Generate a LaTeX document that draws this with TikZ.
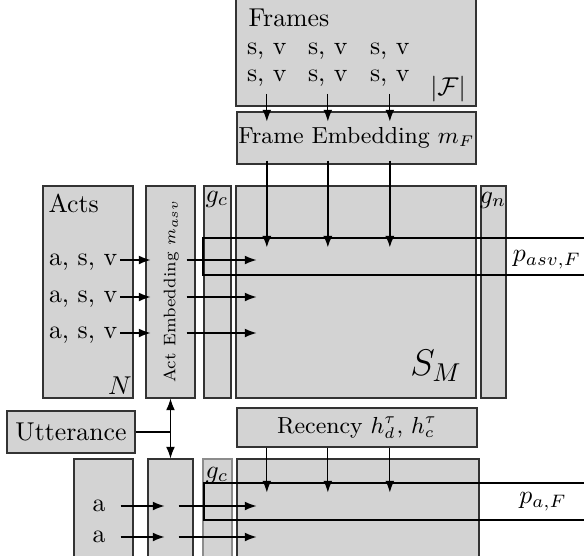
\documentclass[tikz,border=0pt]{standalone}
\usepackage{amsmath,amssymb}
\usepackage{tikz}
\usetikzlibrary{arrows.meta,positioning,calc,fit}
\definecolor{boxfill}{HTML}{D3D3D3}
\definecolor{edge}{HTML}{333333}
\begin{document}
\begin{tikzpicture}[x=0.388pt,y=-0.388pt,
      box/.style={draw=edge,fill=boxfill,line width=0.4pt,inner sep=0pt},
      lbl/.style={inner sep=1pt,text depth=0pt},
      arr/.style={-{Latex[length=4.5pt,width=3.4pt]},line width=0.45pt},
      darr/.style={{Latex[length=4.5pt,width=3.4pt]}-{Latex[length=4.5pt,width=3.4pt]},line width=0.45pt},
      fat/.style={-{Latex[length=4.5pt,width=3.6pt]},line width=0.8pt},
      prow/.style={line width=1pt}]
    \useasboundingbox (0,0) rectangle (584,555);

    % frames
    \node[box,fit={(236,-4) (476,106)}] (frames) {};
    \node[anchor=base west,inner sep=0pt] (framestxt) at (248,26) {Frames};
    \foreach \c/\x in {1/244,2/305,3/367}{
      \node[lbl,anchor=west] (sva\c) at (\x,49) {s, v};
      \node[lbl,anchor=west] (svb\c) at (\x,76) {s, v};}
    \node (card) at (448,89) {$|\mathcal{F}|$};
    \node[box,fit={(237,112) (476,164)}] (fe) {};
    \node[font=\small] (fetxt) at (fe) {Frame Embedding $m_F$};

    % acts and score matrix
    \node[box,fit={(43,186) (133,398)}] (acts) {};
    \node[box,fit={(146,186) (195,398)}] (ae) {};
    \node[box,fit={(204,186) (231,398)}] (gc) {};
    \node[box,fit={(236,186) (476,398)}] (sm) {};
    \node[box,fit={(481,186) (506,398)}] (gn) {};
    \node[anchor=base west,inner sep=0pt] (actstxt) at (48,212) {Acts};
    \node (n) at (120,386) {$N$};
    \node[rotate=90,font=\fontsize{6.5}{8}\selectfont] (aetxt) at (171,291) {Act Embedding $m_{asv}$};
    \node (gctxt) at (217,199) {$g_c$};
    \node (gntxt) at (493,200) {$g_n$};
    \node[font=\Large] (smtxt) at (436,366) {$S_M$};
    \draw[prow] (590,238) -| (203,275) -- (590,275);
    \node (pasv) at (547,260) {$p_{asv,F}$};

    % utterance, recency
    \node[box,fit={(7,411) (135,453)}] (utt) {};
    \node (utttxt) at (utt) {Utterance};
    \node[box,fit={(237,408) (477,447)}] (rec) {};
    \node[font=\small] (rectxt) at (rec) {Recency $h_d^\tau$, $h_c^\tau$};

    % actions only
    \node[box,fit={(74,459) (133,558)}] (abox) {};
    \node[box,fit={(148,459) (193,558)}] (ae2) {};
    \node[box,draw=black!45,fit={(203,459) (232,558)}] (gc2) {};
    \node[box,fit={(237,459) (479,558)}] (sm2) {};
    \node (gc2txt) at (217,475) {$g_c$};
    \draw[prow] (590,483) -| (204,520) -- (590,520);
    \node (pa) at (543,502) {$p_{a,F}$};

    % arrows
    \foreach \c in {1,2,3}{
      \draw[arr] (svb\c.south) ++(0,9) -- ($(svb\c |- fe.north)+(0,10)$);
      \draw[fat] ($(svb\c |- fe.south)+(0,-4)$) -- ($(svb\c |- sm.north)+(0,62)$);
      \draw[arr] (svb\c |- rec.south) -- ($(svb\c |- sm2.north)+(0,34)$);}
    \foreach \i/\y in {1/260,2/297,3/333}{
      \node[lbl,anchor=west] (asv\i) at (46,\y) {a, s, v};
      \draw[arr] (asv\i.east) -- ($(asv\i -| ae.west)+(5,0)$);
      \draw[arr] ($(asv\i -| ae.east)+(-9,0)$) -- ($(asv\i -| sm.west)+(21,0)$);}
    \foreach \i/\y in {1/506,2/537}{
      \node[lbl] (a\i) at (99,\y) {a};
      \draw[arr] (a\i.east) ++(12,0) -- ($(a\i -| ae2.west)+(17,0)$);
      \draw[arr] ($(a\i -| ae2.east)+(-15,0)$) -- ($(a\i -| sm2.west)+(20,0)$);}
    \draw[darr] (ae.south) -- (ae2.north);
    \draw[line width=0.45pt] (utt.east) -- (utt.east -| ae.south);
  \end{tikzpicture}
\end{document}
